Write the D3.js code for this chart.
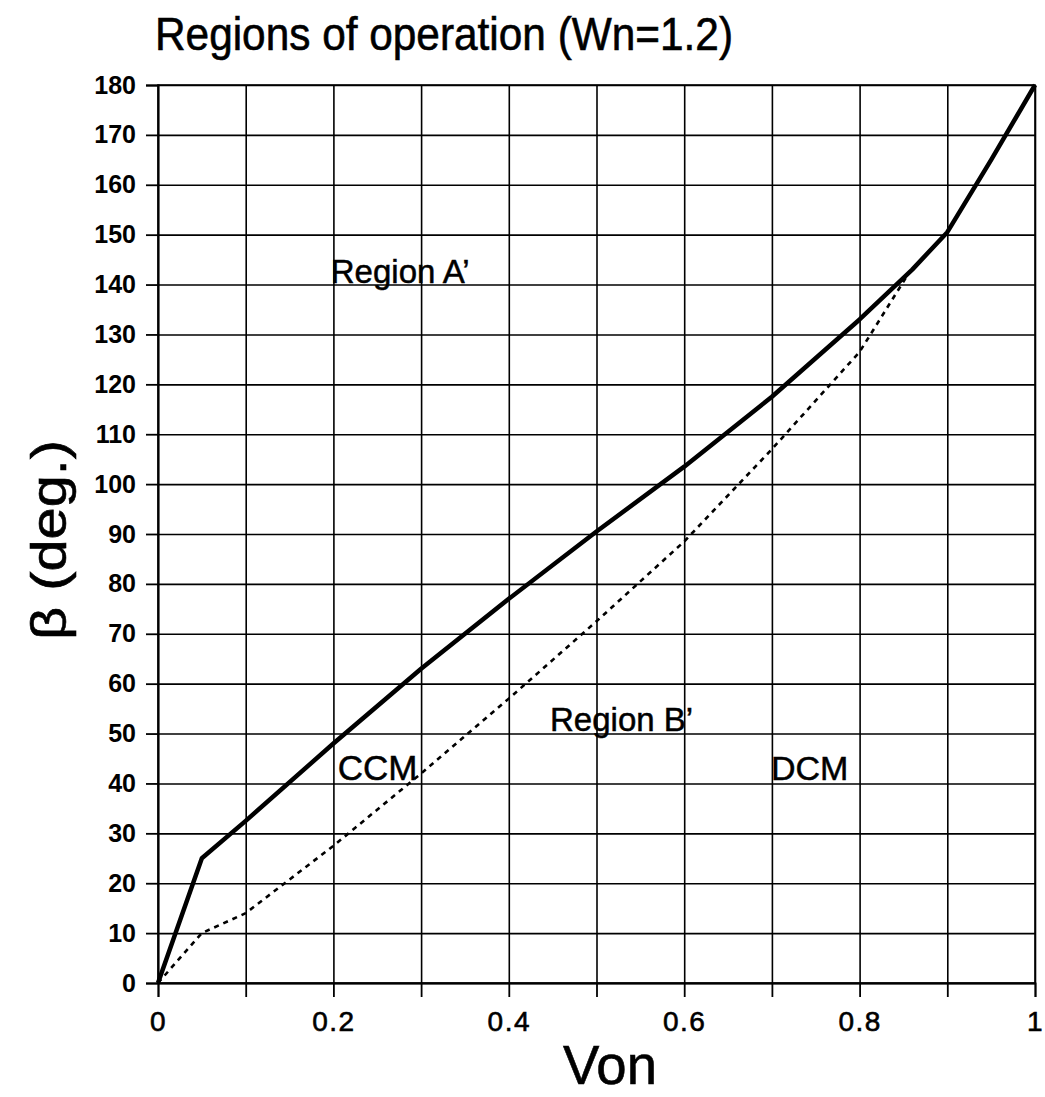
<!DOCTYPE html>
<html lang="en">
<head>
<meta charset="UTF-8">
<script src="https://d3js.org/d3.v7.min.js"></script>
<title>Regions of operation</title>
<style>
  body { margin: 0; background: #fff; }
  svg { display: block; font-family: "Liberation Sans", Arial, sans-serif; }
  .grid line { stroke: #000; stroke-width: 1.6; }
  .grid path { display: none; }
  .axis path, .axis line { stroke: #000; stroke-width: 1.8; }
</style>
</head>
<body>
<svg width="1045" height="1097"></svg>
<script>
// boundary between Region A' and B' (solid)
const vonA = [0, 0.05, 0.1, 0.2, 0.3, 0.4, 0.5, 0.6, 0.7, 0.8, 0.86, 0.9, 0.95, 1]
const betaA = [0, 25, 32.5, 48, 63, 77, 90.5, 103.5, 117.5, 133, 143, 150.5, 165, 180]
// CCM / DCM boundary (dotted)
const vonB = [0, 0.05, 0.1, 0.2, 0.3, 0.4, 0.5, 0.6, 0.7, 0.8, 0.855]
const betaB = [0, 10, 14, 27.5, 42, 57, 72.5, 88.5, 107, 126.5, 142]

const xTicks = d3.range(0, 11).map(d => d / 10)
const yTicks = d3.range(0, 19).map(d => d * 10)
const xLabels = [0, 0.2, 0.4, 0.6, 0.8, 1]

const notes = [
  { text: "Region A\u2019", x: 0.197, y: 140.3, size: 33 },
  { text: "Region B\u2019", x: 0.447, y: 50.5, size: 33 },
  { text: "CCM", x: 0.205, y: 40.7, size: 35 },
  { text: "DCM", x: 0.699, y: 40.7, size: 34 }
]

const margin = { top: 85, right: 10, bottom: 114, left: 158 }
const W = 1045, H = 1097
const width = W - margin.left - margin.right
const height = H - margin.top - margin.bottom

const svg = d3.select("svg")
const g = svg.append("g").attr("transform", `translate(${margin.left},${margin.top})`)

const x = d3.scaleLinear().domain([0, 1]).range([0, width])
const y = d3.scaleLinear().domain([0, 180]).range([height, 0])

// grid
g.append("g").attr("class", "grid")
  .call(d3.axisBottom(x).tickValues(xTicks).tickSize(height).tickFormat(""))
g.append("g").attr("class", "grid")
  .call(d3.axisLeft(y).tickValues(yTicks).tickSize(-width).tickFormat(""))

// frame
g.append("rect").attr("width", width).attr("height", height)
  .attr("fill", "none").attr("stroke", "#000").attr("stroke-width", 1.6)

// axes
const xAxis = g.append("g").attr("class", "axis")
  .attr("transform", `translate(0,${height})`)
  .call(d3.axisBottom(x).tickValues(xTicks).tickSize(14).tickPadding(14)
    .tickFormat(d => xLabels.some(v => Math.abs(v - d) < 1e-9) ? d3.format("")(+d.toFixed(1)) : ""))
xAxis.selectAll("text").attr("font-size", 28).attr("fill", "#000")
  .attr("stroke", "#000").attr("stroke-width", 0.6)
  .attr("font-family", "Liberation Sans, Arial, sans-serif").style("letter-spacing", "1.5px")

const yAxis = g.append("g").attr("class", "axis")
  .call(d3.axisLeft(y).tickValues(yTicks).tickSize(12).tickPadding(10))
yAxis.selectAll("text").attr("font-size", 25).attr("font-weight", "bold").attr("fill", "#000")
  .attr("font-family", "Liberation Sans, Arial, sans-serif")

// curves
const line = d3.line().x(d => x(d[0])).y(d => y(d[1]))
g.append("path").datum(d3.zip(vonB, betaB)).attr("d", line)
  .attr("fill", "none").attr("stroke", "#000").attr("stroke-width", 2.6)
  .attr("stroke-dasharray", "5,5")
g.append("path").datum(d3.zip(vonA, betaA)).attr("d", line)
  .attr("fill", "none").attr("stroke", "#000").attr("stroke-width", 4.5)
  .attr("stroke-linejoin", "round")

// region labels
g.selectAll(".note").data(notes).enter().append("text")
  .attr("class", "note")
  .attr("x", d => x(d.x)).attr("y", d => y(d.y))
  .attr("font-size", d => d.size).attr("fill", "#000")
  .attr("stroke", "#000").attr("stroke-width", 0.5)
  .text(d => d.text)

// titles
svg.append("text").attr("x", 155).attr("y", 50)
  .attr("font-size", 46).attr("textLength", 578).attr("lengthAdjust", "spacingAndGlyphs")
  .attr("stroke", "#000").attr("stroke-width", 0.6)
  .text("Regions of operation (Wn=1.2)")

svg.append("text").attr("x", 610).attr("y", 1084).attr("text-anchor", "middle")
  .attr("font-size", 55).attr("textLength", 94).attr("lengthAdjust", "spacingAndGlyphs")
  .attr("stroke", "#000").attr("stroke-width", 0.6)
  .text("Von")

svg.append("text").attr("transform", "translate(66,540) rotate(-90)")
  .attr("text-anchor", "middle").attr("font-size", 50)
  .attr("textLength", 200).attr("lengthAdjust", "spacingAndGlyphs")
  .attr("stroke", "#000").attr("stroke-width", 0.6)
  .text("\u03b2 (deg.)")
</script>
</body>
</html>
